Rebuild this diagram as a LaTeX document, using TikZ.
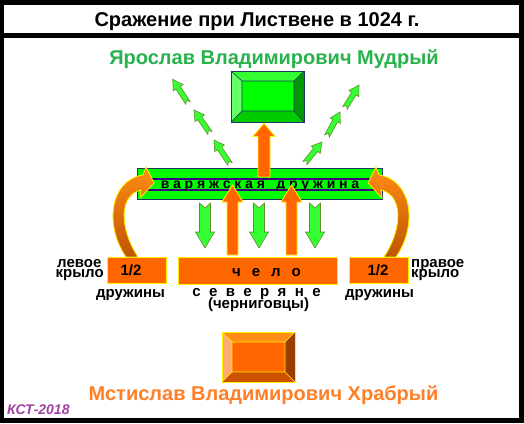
\documentclass[tikz,border=0pt]{standalone}
\usepackage{fontspec}
\setmainfont{Liberation Sans}
\usetikzlibrary{calc}
\definecolor{yargreen}{RGB}{40,178,76}
\definecolor{mstorange}{RGB}{255,127,39}
\definecolor{kst}{RGB}{160,64,160}
\definecolor{navy}{RGB}{31,56,100}
\definecolor{stripe}{RGB}{64,0,128}
\definecolor{org}{RGB}{255,102,0}
\definecolor{brightg}{RGB}{51,255,51}
\definecolor{pureg}{RGB}{0,255,0}
\definecolor{lightg}{RGB}{102,255,102}
\definecolor{olivec}{RGB}{100,140,40}
\definecolor{ctop}{RGB}{255,140,20}
\definecolor{cbot}{RGB}{190,85,0}
\newcommand{\blockarr}[7][]{%
  \coordinate (bh) at ($(#3)!#6!(#2)$);
  \coordinate (bn) at ($(#2)!#7!(#3)$);
  \draw[#1] ($(#2)!#4!90:(#3)$) -- ($(bh)!#4!90:(#3)$) -- ($(bh)!#5!90:(#3)$) -- (#3)
    -- ($(bh)!#5!-90:(#3)$) -- ($(bh)!#4!-90:(#3)$) -- ($(#2)!#4!-90:(#3)$) -- (bn) -- cycle;
}
\newcommand{\curvedshape}{(126,257) .. controls (104,225) and (110,180) .. (143,175) -- (146,167) -- (154,183) -- (140,198) -- (141,190) .. controls (119,195) and (119,228) .. (138,257) -- cycle}
\begin{document}
\begin{tikzpicture}[x=1pt,y=-1pt,
  txt/.style={inner sep=0pt, anchor=base, font=\fontsize{15}{15}\selectfont\bfseries},
  obox/.style={draw=yellow, fill=org, line width=0.8pt, inner sep=0pt},
  garr/.style={fill=brightg, draw=olivec, line width=0.6pt},
  oarr/.style={fill=org, draw=yellow, line width=0.8pt},
  carr/.style={top color=ctop, bottom color=cbot, draw=yellow, line width=0.8pt}
]
\useasboundingbox (0,0) rectangle (524,423);
\fill[black] (0,0) rectangle (524,423);
\node[fill=white, minimum width=515pt, minimum height=28pt, inner sep=0pt] (titlebox) at (261.5,19) {};
\node[fill=white, minimum width=515pt, minimum height=380pt, inner sep=0pt] (mainbox) at (261.5,228) {};
\node[txt, font=\fontsize{20}{24}\selectfont\bfseries] (title) at (257,26) {Сражение при Листвене в 1024 г.};
\node[txt, font=\fontsize{20}{24}\selectfont\bfseries, text=yargreen] (yar) at (274,64) {Ярослав Владимирович Мудрый};
\node[txt, font=\fontsize{20}{24}\selectfont\bfseries, text=mstorange] (mst) at (263.5,400) {Мстислав Владимирович Храбрый};
\node[txt, anchor=base west, font=\fontsize{14}{16}\selectfont\bfseries\itshape, text=kst] (kst) at (7,414) {КСТ-2018};

% Yaroslav box
\fill[brightg] (231,71)--(304,71)--(294,81)--(242,81)--cycle;
\fill[lightg] (231,71)--(242,81)--(242,111)--(231,122)--cycle;
\fill[green!60!black] (304,71)--(304,122)--(294,111)--(294,81)--cycle;
\fill[green!80!black] (231,122)--(304,122)--(294,111)--(242,111)--cycle;
\fill[pureg] (242,81) rectangle (294,111);
\draw[navy, line width=0.6pt] (231,71)--(242,81) (304,71)--(294,81) (231,122)--(242,111) (304,122)--(294,111) (242,81) rectangle (294,111);
\node[draw=navy, line width=0.8pt, minimum width=73pt, minimum height=51pt, inner sep=0pt] (yarbox) at (267.5,96.5) {};

% Mstislav box
\fill[ctop] (222,332)--(295,332)--(285,342)--(232,342)--cycle;
\fill[org!55!white] (222,332)--(232,342)--(232,372)--(222,382)--cycle;
\fill[org!60!black] (295,332)--(295,382)--(285,372)--(285,342)--cycle;
\fill[org!80!black] (222,382)--(295,382)--(285,372)--(232,372)--cycle;
\fill[org] (232,342) rectangle (285,372);
\draw[yellow, line width=0.6pt] (222,332)--(232,342) (295,332)--(285,342) (222,382)--(232,372) (295,382)--(285,372) (232,342) rectangle (285,372);
\node[draw=yellow, line width=0.8pt, minimum width=73pt, minimum height=50pt, inner sep=0pt] (mstbox) at (258.5,357) {};

% green diagonal arrows
\foreach \a/\b/\c/\d in {230/164/214/140, 210/133/194/110, 188/103/172.7/79.3, 305/163/322/142, 327/136/340/112, 345/108/359/85}{
  \coordinate (ds) at (\a,\b); \coordinate (de) at (\c,\d);
  \blockarr[garr]{ds}{de}{2.6pt}{5.8pt}{10pt}{3pt}
}

% bar
\node[fill=pureg, draw=navy, line width=0.8pt, minimum width=245pt, minimum height=31pt, inner sep=0pt] (bar) at (259.5,183.5) {};
\coordinate (ys) at (264,177);
\coordinate (ye) at ($(yarbox.south)+(-3.5,1)$);
\blockarr[oarr]{ys}{ye}{6pt}{11pt}{13pt}{0pt}
\node[fill=pureg, draw=stripe, line width=2.5pt, minimum width=237pt, minimum height=11pt, inner sep=0pt] (barlabel) at (264.5,184.5) {};
\node[txt, font=\fontsize{14}{14}\selectfont\bfseries] (bartext) at (260,188.5) {\spaceskip=3.8pt\relax в а р я ж с к а я\hspace{11.5pt}д р у ж и н а};

% bottom boxes
\node[obox, minimum width=59pt, minimum height=26pt] (lbox) at (136.5,270) {};
\node[obox, minimum width=159pt, minimum height=27pt] (chelo) at (257.5,270.5) {};
\node[obox, minimum width=59pt, minimum height=26pt] (rbox) at (378.5,270) {};
\node[txt] (lhalf) at (131,275) {1/2};
\node[txt] (rhalf) at (378,275) {1/2};
\node[txt] (chelot) at (266.5,276) {\spaceskip=11pt\relax ч е л о};

\node[txt, anchor=base west, text height=9pt, text depth=0pt] (lw1) at (57,267) {левое};
\node[txt, anchor=base west, text height=8pt, text depth=0pt] (lw2) at (55.5,277) {крыло};
\node[txt, anchor=base west, text height=9pt, text depth=0pt] (rw1) at (411,267) {правое};
\node[txt, anchor=base west, text height=8pt, text depth=0pt] (rw2) at (411,277) {крыло};
\node[txt] (ld) at (130.5,297) {дружины};
\node[txt] (rd) at (379.5,297) {дружины};
\node[txt, text depth=0pt] (sev) at (256.5,296) {\spaceskip=8.4pt\relax с е в е р я н е};
\node[txt, text height=9pt] (cher) at (258.5,308) {(черниговцы)};

% green down arrows
\foreach \x in {205,259,315}{
  \coordinate (gs) at (\x,203); \coordinate (ge) at (\x,248);
  \blockarr[garr]{gs}{ge}{5.5pt}{9.5pt}{16pt}{5pt}
}
% orange up arrows
\foreach \x in {232.5,291.5}{
  \coordinate (os) at (\x,255); \coordinate (oe) at (\x,185);
  \blockarr[oarr]{os}{oe}{5.5pt}{10.5pt}{17pt}{0pt}
}
% curved arrows
\shadedraw[carr] \curvedshape;
\begin{scope}[xshift=522pt, xscale=-1]
\shadedraw[carr] \curvedshape;
\end{scope}
\end{tikzpicture}
\end{document}
